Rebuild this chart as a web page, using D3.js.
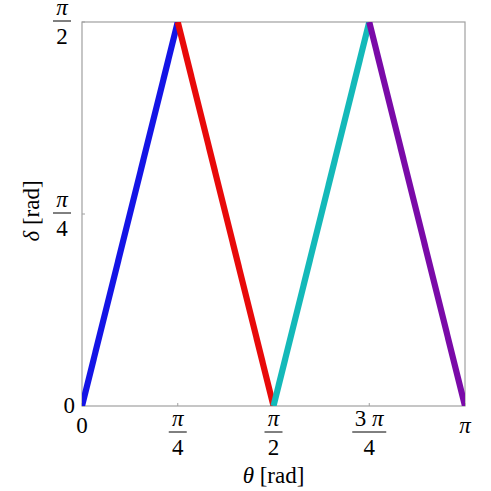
<!DOCTYPE html>
<html><head><meta charset="utf-8">
<script src="https://cdn.jsdelivr.net/npm/d3@7"></script>
<style>body{margin:0;background:#fff}svg{display:block}</style>
</head><body>
<svg id="chart" width="491" height="491"></svg>
<script>
const PI = Math.PI;
const thetaPoints = [0, PI/4, PI/2, 3*PI/4, PI];
const deltaPoints = [0, PI/2, 0, PI/2, 0];
const segmentColors = ["#1414e6", "#e80a0a", "#14b9b9", "#7a0aa8"];
const xTickValues = [0, PI/4, PI/2, 3*PI/4, PI];
const xTickNum = ["0", "π", "π", "3 π", "π"];
const xTickDen = [null, "4", "2", "4", null];
const yTickValues = [0, PI/4, PI/2];
const yTickNum = ["0", "π", "π"];
const yTickDen = [null, "4", "2"];
const xTitle = ["θ", " [rad]"];
const yTitle = ["δ", " [rad]"];

const FONT = "'Liberation Serif'";
const svg = d3.select("#chart");
const L = 82, R = 465, T = 22, B = 406;
const x = d3.scaleLinear().domain([0, PI]).range([L, R]);
const y = d3.scaleLinear().domain([0, PI/2]).range([B, T]);

svg.append("clipPath").attr("id","clip").append("rect")
  .attr("x", L).attr("y", T).attr("width", R-L).attr("height", B-T);

// frame
svg.append("rect").attr("x", L).attr("y", T).attr("width", R-L).attr("height", B-T)
  .attr("fill","none").attr("stroke","#a0a0a0").attr("stroke-width",1.2);

// ticks
const tickLen = 3;
svg.append("g").selectAll("line").data(xTickValues).join("line")
  .attr("x1", d=>x(d)).attr("x2", d=>x(d)).attr("y1", B).attr("y2", B - tickLen)
  .attr("stroke","#a0a0a0");
svg.append("g").selectAll("line").data(yTickValues).join("line")
  .attr("y1", d=>y(d)).attr("y2", d=>y(d)).attr("x1", L).attr("x2", L + tickLen)
  .attr("stroke","#a0a0a0");

// lines
const line = d3.line().x(d=>x(d[0])).y(d=>y(d[1]));
const gLines = svg.append("g").attr("clip-path","url(#clip)");
for (let i = 0; i < segmentColors.length; i++) {
  gLines.append("path")
    .attr("d", line([[thetaPoints[i], deltaPoints[i]], [thetaPoints[i+1], deltaPoints[i+1]]]))
    .attr("fill","none").attr("stroke", segmentColors[i]).attr("stroke-width", 6.2);
}

const fs = 23;
function piSpan(t, sel) {
  const parts = t.split(/(π)/);
  parts.forEach(p => {
    if (!p) return;
    sel.append("tspan").text(p).style("font-style", p === "π" ? "italic" : "normal");
  });
}
function txt(g) {
  return g.append("text").style("font-family", FONT).style("font-size", fs + "px").attr("fill", "#000");
}
function fraction(g, cx, cy, num, den) {
  if (den === null) {
    const t = txt(g).attr("x", cx).attr("y", cy + 7).attr("text-anchor","middle");
    piSpan(num, t);
    return;
  }
  const t1 = txt(g).attr("x", cx).attr("y", cy - 6).attr("text-anchor","middle");
  piSpan(num, t1);
  const w = num.length > 1 ? 34 : 18;
  g.append("line").attr("x1", cx - w/2).attr("x2", cx + w/2).attr("y1", cy).attr("y2", cy)
    .attr("stroke","#000").attr("stroke-width",1);
  txt(g).attr("x", cx).attr("y", cy + 23).attr("text-anchor","middle").text(den);
}

const gx = svg.append("g");
xTickValues.forEach((v, i) => {
  if (xTickDen[i] === null) fraction(gx, x(v), 426, xTickNum[i], null);
  else fraction(gx, x(v), 432, xTickNum[i], xTickDen[i]);
});
const gy = svg.append("g");
yTickValues.forEach((v, i) => {
  if (yTickDen[i] === null) {
    txt(gy).attr("x", 75).attr("y", y(v) + 7).attr("text-anchor","end").text(yTickNum[i]);
  } else {
    fraction(gy, 62, y(v) - 1, yTickNum[i], yTickDen[i]);
  }
});

// axis titles
const xt = txt(svg).attr("x", x(PI/2)).attr("y", 483).attr("text-anchor","middle");
xt.append("tspan").style("font-style","italic").text(xTitle[0]);
xt.append("tspan").text(xTitle[1]);
const yt = txt(svg).attr("transform", `translate(39,${y(PI/4) - 3}) rotate(-90)`).attr("text-anchor","middle");
yt.append("tspan").style("font-style","italic").text(yTitle[0]);
yt.append("tspan").text(yTitle[1]);
</script>
</body></html>
